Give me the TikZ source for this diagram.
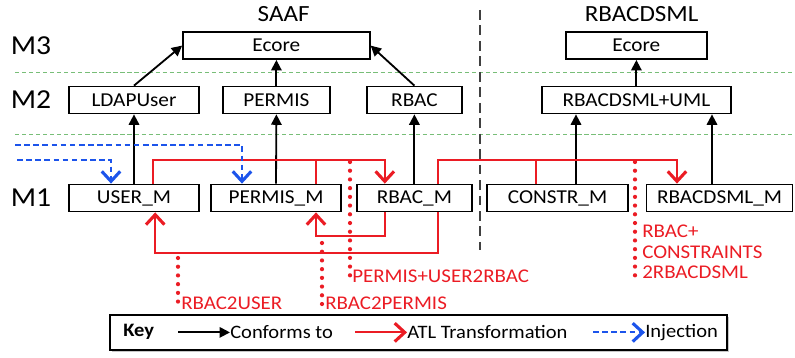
\documentclass[tikz,border=0pt]{standalone}
\usepackage{fontspec}
\setmainfont[FakeStretch=1.08]{Carlito}
\usetikzlibrary{arrows.meta,calc,shadows}
\definecolor{atlred}{RGB}{235,28,36}
\definecolor{injblue}{RGB}{28,84,235}
\definecolor{lvlgreen}{RGB}{120,190,120}
\begin{document}
\begin{tikzpicture}[
  mbox/.style={rectangle, draw, line width=1.1pt, fill=white, minimum height=6.8mm, inner sep=0pt, font=\fontsize{14}{16}\selectfont},
  lvl/.style={font=\fontsize{19.5}{22}\selectfont},
  ttl/.style={font=\fontsize{16.5}{19}\selectfont},
  lbl/.style={anchor=west, inner sep=0pt, text=atlred, font=\fontsize{13.8}{14.5}\selectfont},
  ktext/.style={anchor=west, inner sep=0pt, font=\fontsize{13.5}{16}\selectfont},
  keybox/.style={draw, line width=1.1pt, fill=white, drop shadow={opacity=0.45, shadow xshift=0.6mm, shadow yshift=-0.6mm}},
  conf/.style={draw, line width=1.3pt, -{Triangle[length=2.6mm,width=2.6mm]}},
  atl/.style={draw=atlred, line width=1.4pt, -{Straight Barb[length=2.5mm,width=4.6mm,line width=2.2pt]}},
  atlline/.style={draw=atlred, line width=1.4pt},
  inj/.style={draw=injblue, line width=1.3pt, dash pattern=on 4pt off 2.5pt, -{Straight Barb[length=2.5mm,width=4.6mm,line width=2.2pt]}},
  dots/.style={atlred, line width=3pt, line cap=round, dash pattern=on 0pt off 6.2pt},
  lvlline/.style={lvlgreen, line width=0.5pt, dash pattern=on 3pt off 2pt},
  sep/.style={black!75, line width=1.1pt, dash pattern=on 7pt off 4pt}
]
  \useasboundingbox (0,0) rectangle (19.875,8.95);

  \draw[lvlline] (0.375,7.15) -- (19.875,7.15);
  \draw[lvlline] (0.375,5.6) -- (19.875,5.6);
  \draw[sep] (12,8.7) -- (12,2.7);

  \node[ttl] (saaf) at (7.09,8.6) {SAAF};
  \node[ttl] (dsmltitle) at (16.04,8.6) {RBACDSML};
  \node[lvl] (m3) at (0.775,7.8) {M3};
  \node[lvl] (m2) at (0.775,6.45) {M2};
  \node[lvl] (m1) at (0.775,4.0) {M1};

  \node[mbox, minimum width=4.675cm] (ecoreA) at (6.91,7.81) {Ecore};
  \node[mbox, minimum width=3.25cm] (ldap) at (3.35,6.45) {LDAPUser};
  \node[mbox, minimum width=2.675cm] (permis) at (6.91,6.45) {PERMIS};
  \node[mbox, minimum width=2.375cm] (rbac) at (10.36,6.45) {RBAC};
  \node[mbox, minimum width=3.525cm] (ecoreB) at (15.91,7.81) {Ecore};
  \node[mbox, minimum width=4.725cm] (dsmluml) at (15.91,6.45) {RBACDSML+UML};

  \node[mbox, minimum width=3.25cm] (userm) at (3.35,4.0) {USER\_M};
  \node[mbox, minimum width=3.25cm] (permism) at (6.9,4.0) {PERMIS\_M};
  \node[mbox, minimum width=2.875cm] (rbacm) at (10.36,4.0) {RBAC\_M};
  \node[mbox, minimum width=3.525cm] (constrm) at (13.94,4.0) {CONSTR\_M};
  \node[mbox, minimum width=3.65cm] (dsmlm) at (17.99,4.0) {RBACDSML\_M};

  \draw[conf] (ldap.north) -- (ecoreA.west);
  \draw[conf] (permis.north) -- (ecoreA.south);
  \draw[conf] (rbac.north) -- (ecoreA.east);
  \draw[conf] (dsmluml.north) -- (ecoreB.south);
  \draw[conf] (userm.north) -- (ldap.south);
  \draw[conf] (permism.north) -- (permis.south);
  \draw[conf] (rbacm.north) -- (rbac.south);
  \draw[conf] ($(constrm.north)+(0.46,0)$) coordinate (cn) -- (cn |- dsmluml.south);
  \draw[conf] ($(dsmlm.north)+(-0.19,0)$) coordinate (dn) -- (dn |- dsmluml.south);

  \draw[atl] ($(userm.north)+(0.48,0)$) -- ++(0,0.6) -| ($(rbacm.north)+(-0.74,0)$);
  \draw[atlline] ($(permism.north)+(1.0,0)$) -- ++(0,0.6);
  \draw[atl] ($(rbacm.south)+(-0.74,0)$) -- ++(0,-0.6) -| ($(permism.south)+(1.0,0)$);
  \draw[atl] ($(rbacm.south)+(0.59,0)$) -- ++(0,-1.025) -| ($(userm.south)+(0.53,0)$);
  \draw[atl] ($(rbacm.north)+(0.59,0)$) -- ++(0,0.6) -| ($(dsmlm.north)+(-1.065,0)$);
  \draw[atlline] ($(constrm.north)+(-0.54,0)$) -- ++(0,0.6);

  \coordinate (i1) at (0.375,5.325);
  \coordinate (i2) at (0.425,4.95);
  \draw[inj] (i1) -| ($(permism.north)+(-0.85,0)$);
  \draw[inj] (i2) -| ($(userm.north)+(-0.575,0)$);

  \node[lbl] (lblA) at (8.8,2.05) {PERMIS+USER2RBAC};
  \node[lbl] (lblB) at (8.125,1.375) {RBAC2PERMIS};
  \node[lbl] (lblC) at (4.525,1.375) {RBAC2USER};
  \node[lbl, align=left] (lblD) at (16.05,2.65) {RBAC+\\CONSTRAINTS\\2RBACDSML};
  \coordinate (dA) at (8.75,4.9);
  \coordinate (dB) at (8.05,2.875);
  \coordinate (dC) at (4.45,2.5);
  \coordinate (dD) at (15.875,4.9);
  \draw[dots] (dA) -- (dA |- lblA.south);
  \draw[dots] (dB) -- (dB |- lblB.south);
  \draw[dots] (dC) -- (dC |- lblC.south);
  \draw[dots] (dD) -- (dD |- lblD.south);

  \node[keybox, minimum width=15.425cm, minimum height=0.875cm] (key) at (10.46,0.64) {};
  \node[ktext, font=\fontsize{13.5}{16}\selectfont\bfseries] (kkey) at (3.075,0.66) {Key};
  \node[ktext] (kconf) at (5.75,0.64) {Conforms to};
  \node[ktext] (katl) at (10.175,0.64) {ATL Transformation};
  \node[ktext] (kinj) at (16.125,0.64) {Injection};
  \coordinate (kc) at (4.45,0.64);
  \coordinate (ka) at (8.875,0.64);
  \coordinate (ki) at (14.825,0.64);
  \draw[conf] (kc) -- (kconf.west);
  \draw[atl] (ka) -- (katl.west);
  \draw[inj] (ki) -- (kinj.west);
\end{tikzpicture}
\end{document}
